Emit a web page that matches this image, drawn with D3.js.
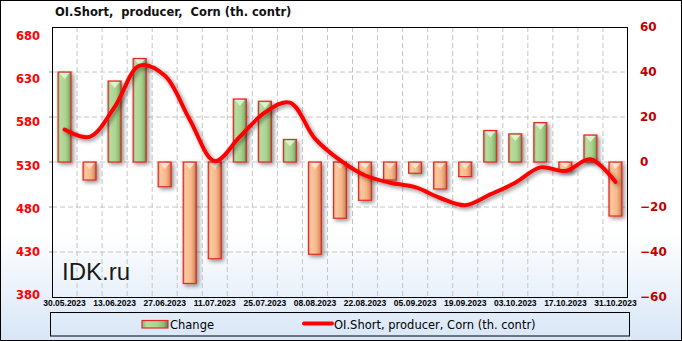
<!DOCTYPE html>
<html><head><meta charset="utf-8">
<script src="https://cdn.jsdelivr.net/npm/d3@7"></script>
<style>body{margin:0;background:#fff}svg{display:block}</style>
</head><body>
<script>
const dates = ["30.05.2023","06.06.2023","13.06.2023","20.06.2023","27.06.2023","04.07.2023","11.07.2023","18.07.2023","25.07.2023","01.08.2023","08.08.2023","15.08.2023","22.08.2023","29.08.2023","05.09.2023","12.09.2023","19.09.2023","26.09.2023","03.10.2023","10.10.2023","17.10.2023","24.10.2023","31.10.2023"];
const change = [40, -8, 36, 46, -11, -54, -43, 28, 27, 10, -41, -25, -17, -8, -5, -12, -6.5, 14, 12.5, 17.5, -4, 12, -24];
const oiShort = [566, 558, 591, 637, 626, 577, 531, 558, 585, 596, 556, 532, 515, 507, 502, 490, 482, 494, 507, 524, 520, 533, 508];
const leftTicks = [380, 430, 480, 530, 580, 630, 680];
const rightTicks = [-60, -40, -20, 0, 20, 40, 60];
const title = "OI.Short,  producer,  Corn (th. contr)";
const legendBar = "Change";
const legendLine = "OI.Short, producer, Corn (th. contr)";

const W = 682, H = 341;
const m = {l: 52, r: 628, t: 27, b: 297};

const svg = d3.select("body").append("svg").attr("width", W).attr("height", H);
const defs = svg.append("defs");

const bg = defs.append("linearGradient").attr("id", "bg").attr("x1", 0).attr("y1", 0).attr("x2", 0).attr("y2", 1);
bg.append("stop").attr("offset", 0).attr("stop-color", "#ffffff");
bg.append("stop").attr("offset", 0.68).attr("stop-color", "#ffffff");
bg.append("stop").attr("offset", 1).attr("stop-color", "#d8e6f7");

const gG = defs.append("linearGradient").attr("id", "gGreen");
[[0,"#86b070"],[0.18,"#b8dc9f"],[0.6,"#aad38e"],[0.85,"#8ab872"],[1,"#5d7f4c"]].forEach(s=>gG.append("stop").attr("offset",s[0]).attr("stop-color",s[1]));
const gO = defs.append("linearGradient").attr("id", "gOrange");
[[0,"#dc986c"],[0.18,"#fcc8a0"],[0.6,"#f7b88a"],[0.85,"#dc9768"],[1,"#a8684a"]].forEach(s=>gO.append("stop").attr("offset",s[0]).attr("stop-color",s[1]));

const sh = defs.append("filter").attr("id", "shadow").attr("x", "-50%").attr("y", "-50%").attr("width", "200%").attr("height", "200%");
sh.append("feGaussianBlur").attr("in", "SourceAlpha").attr("stdDeviation", 2).attr("result", "b");
sh.append("feOffset").attr("in", "b").attr("dx", 2).attr("dy", 2).attr("result", "o");
sh.append("feComponentTransfer").attr("in", "o").attr("result", "s").append("feFuncA").attr("type", "linear").attr("slope", 0.45);
const mg = sh.append("feMerge");
mg.append("feMergeNode").attr("in", "s");
mg.append("feMergeNode").attr("in", "SourceGraphic");

svg.append("rect").attr("x", 0).attr("y", 0).attr("width", W).attr("height", H).attr("fill", "url(#bg)");
svg.append("rect").attr("x", 0.5).attr("y", 0.5).attr("width", W - 1).attr("height", H - 1).attr("fill", "none").attr("stroke", "#000");

const x = d3.scaleBand().domain(dates).range([m.l, m.r]).padding(0);
const yL = d3.scaleLinear().domain([380, 680]).range([m.b, m.t]);
const yLabel = d3.scaleLinear().domain([380, 680]).range([295, 35.7]);
const yR = d3.scaleLinear().domain([-60, 60]).range([m.b, m.t]);

// grid
const grid = svg.append("g").attr("stroke", "#c4c4c4").attr("stroke-dasharray", "5,3");
grid.selectAll("line.h").data(leftTicks.slice(1, -1)).join("line")
  .attr("x1", m.l).attr("x2", m.r).attr("y1", d => yL(d)).attr("y2", d => yL(d));
grid.selectAll("line.v").data(dates.slice(1)).join("line")
  .attr("x1", d => x(d)).attr("x2", d => x(d)).attr("y1", m.t).attr("y2", m.b);

// left small outer ticks
svg.append("g").selectAll("line").data(leftTicks.slice(1, -1)).join("line")
  .attr("x1", m.l - 3).attr("x2", m.l).attr("y1", d => yL(d)).attr("y2", d => yL(d)).attr("stroke", "#999");

// bars
const bw = 13;
const bars = svg.append("g");
dates.forEach((d, i) => {
  const v = change[i];
  const cx = x(d) + x.bandwidth() / 2;
  const y0 = yR(Math.max(0, v)), y1 = yR(Math.min(0, v));
  const g = bars.append("g").attr("filter", "url(#shadow)");
  g.append("rect").attr("x", cx - bw / 2).attr("y", y0).attr("width", bw).attr("height", Math.max(1, y1 - y0))
    .attr("fill", v >= 0 ? "url(#gGreen)" : "url(#gOrange)").attr("stroke", "#e32b23").attr("stroke-width", 1.2);
  const th = Math.min(6, (y1 - y0) / 2);
  g.append("path").attr("d", `M${cx - bw / 2 + 1.5},${y0 + 1}L${cx + bw / 2 - 1.5},${y0 + 1}L${cx},${y0 + 1 + th}Z`)
    .attr("fill", v >= 0 ? "#e6f3dc" : "#fde6d4").attr("opacity", 0.9);
});

// line
const line = d3.line().x((d, i) => x(dates[i]) + x.bandwidth() / 2).y(d => yL(d)).curve(d3.curveCatmullRom.alpha(0.5));
svg.append("path").datum(oiShort).attr("d", line).attr("fill", "none").attr("stroke", "#ff0000")
  .attr("stroke-width", 4).attr("stroke-linejoin", "round").attr("stroke-linecap", "round").attr("filter", "url(#shadow)");

// frame
svg.append("rect").attr("x", m.l + 0.5).attr("y", m.t + 0.5).attr("width", m.r - m.l - 1).attr("height", m.b - m.t)
  .attr("fill", "none").attr("stroke", "#000");

// axes
const axL = svg.append("g").attr("transform", `translate(${m.l},0)`)
  .call(d3.axisLeft(yLabel).tickValues(leftTicks).tickSize(0).tickPadding(12));
axL.select(".domain").remove();
axL.selectAll("text").attr("fill", "#ff0000").attr("font-family", "DejaVu Sans").attr("font-size", 11.5).attr("font-weight", "bold");

const axR = svg.append("g").attr("transform", `translate(${m.r},0)`)
  .call(d3.axisRight(yR).tickValues(rightTicks).tickSize(0).tickPadding(12));
axR.select(".domain").remove();
axR.selectAll("text").attr("fill", "#c00000").attr("font-family", "DejaVu Sans").attr("font-size", 12).attr("font-weight", "bold");

const axB = svg.append("g").attr("transform", `translate(0,${m.b})`)
  .call(d3.axisBottom(x).tickValues(dates.filter((d, i) => i % 2 === 0)).tickSize(0).tickPadding(3));
axB.select(".domain").remove();
axB.selectAll("text").attr("fill", "#000").attr("font-family", "Liberation Sans").attr("font-size", 8.5).attr("font-weight", "bold");

// title
svg.append("text").attr("x", 55).attr("y", 16).attr("font-family", "DejaVu Sans").attr("font-weight", "bold")
  .attr("font-size", 11.5).attr("fill", "#111").style("white-space", "pre").text(title);

// watermark
svg.append("text").attr("x", 62).attr("y", 280).attr("font-family", "Liberation Sans").attr("font-size", 24)
  .attr("fill", "#1a1a1a").text("IDK.ru");

// legend
const lg = svg.append("g");
lg.append("rect").attr("x", 50.5).attr("y", 312.5).attr("width", 579).attr("height", 23.5).attr("fill", "none").attr("stroke", "#000");
lg.append("rect").attr("x", 142).attr("y", 320.5).attr("width", 26).attr("height", 7.5).attr("fill", "url(#gGreen)").attr("stroke", "#e32b23").attr("stroke-width", 1.2);
lg.append("text").attr("x", 170).attr("y", 328.5).attr("font-family", "DejaVu Sans").attr("font-size", 11.5).attr("fill", "#000").text(legendBar);
lg.append("line").attr("x1", 304).attr("x2", 332).attr("y1", 323.5).attr("y2", 323.5).attr("stroke", "#ff0000").attr("stroke-width", 4).attr("stroke-linecap", "round");
lg.append("text").attr("x", 334).attr("y", 328.5).attr("font-family", "DejaVu Sans").attr("font-size", 11.5).attr("fill", "#000").text(legendLine);
</script>
</body></html>
